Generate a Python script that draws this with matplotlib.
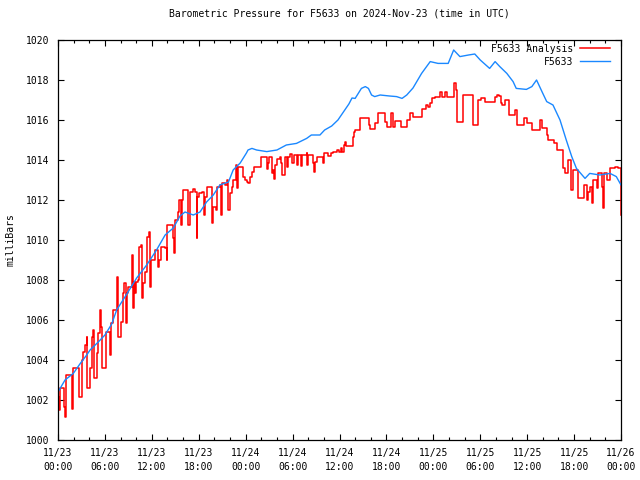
"""Barometric pressure for F5633, observed vs analysis, gnuplot-like look."""

import matplotlib
matplotlib.use("Agg")
import matplotlib.pyplot as plt

# hours since 2024-11-23 00:00 UTC
BLUE_HOURS = [
    0.0, 0.9, 1.96, 2.8, 3.67, 4.1, 5.15, 6.0, 6.87, 7.5, 8.8, 10.06, 11.34,
    12.6, 13.7, 14.75, 15.6, 16.24, 17.3, 18.16, 19.0, 19.86, 20.7, 21.8,
    22.4, 23.3, 24.1, 24.3, 24.8, 25.4, 26.7, 28.0, 29.2, 30.5, 31.8, 32.4,
    33.5, 34.1, 35.0, 35.8, 36.5, 37.2, 37.6, 38.0, 38.8, 39.3, 39.7, 40.1,
    40.5, 41.2, 42.4, 43.3, 44.0, 44.6, 45.4, 46.5, 47.6, 48.6, 49.9, 50.6,
    51.4, 52.5, 53.3, 54.0, 55.2, 55.9, 56.5, 57.4, 58.2, 58.6, 59.9, 60.6,
    61.2, 62.0, 62.5, 63.3, 64.2, 65.0, 65.7, 66.3, 67.4, 68.0, 69.3, 70.6,
    71.4, 72.0,
]
BLUE_MBAR = [
    1002.4, 1003.0, 1003.33, 1003.8, 1004.25, 1004.5, 1004.9, 1005.25,
    1005.8, 1006.5, 1007.3, 1008.1, 1008.75, 1009.5, 1010.25, 1010.6,
    1011.2, 1011.4, 1011.25, 1011.4, 1011.9, 1012.25, 1012.75, 1012.9,
    1013.5, 1013.85, 1014.35, 1014.5, 1014.58, 1014.5, 1014.42, 1014.5,
    1014.75, 1014.83, 1015.08, 1015.25, 1015.25, 1015.5, 1015.7, 1016.0,
    1016.4, 1016.8, 1017.1, 1017.08, 1017.58, 1017.67, 1017.58, 1017.25,
    1017.17, 1017.25, 1017.2, 1017.17, 1017.08, 1017.25, 1017.6, 1018.33,
    1018.92, 1018.83, 1018.83, 1019.5, 1019.17, 1019.25, 1019.3, 1019.0,
    1018.58, 1018.92, 1018.67, 1018.33, 1017.92, 1017.58, 1017.53, 1017.67,
    1018.0, 1017.33, 1016.92, 1016.75, 1016.0, 1015.0, 1014.17, 1013.58,
    1013.08, 1013.33, 1013.25, 1013.33, 1013.17, 1012.75,
]

RED_HOURS = [
    0.0, 0.17, 0.26, 0.68, 0.77, 0.90, 1.02, 1.75, 1.79, 1.88, 1.96, 2.60,
    2.69, 2.73, 3.03, 3.07, 3.24, 3.45, 3.67, 3.75, 4.09, 4.13, 4.31, 4.52,
    4.65, 4.94, 4.99, 5.16, 5.37, 5.50, 5.63, 6.01, 6.14, 6.56, 6.65, 6.78,
    7.08, 7.50, 7.59, 7.72, 8.01, 8.06, 8.27, 8.44, 8.65, 8.78, 8.99, 9.42,
    9.51, 9.63, 9.72, 9.85, 9.97, 10.27, 10.40, 10.61, 10.70, 10.78, 10.87,
    11.13, 11.42, 11.64, 11.76, 11.85, 12.19, 12.40, 12.62, 12.83, 12.96,
    13.17, 13.68, 13.90, 13.98, 14.66, 14.75, 14.88, 14.96, 15.26, 15.39,
    15.52, 15.73, 15.81, 16.03, 16.45, 16.67, 16.88, 17.22, 17.52, 17.73,
    17.82, 18.07, 18.37, 18.67, 18.80, 19.01, 19.44, 19.74, 19.86, 20.16,
    20.29, 20.72, 20.80, 21.01, 21.36, 21.57, 21.78, 21.99, 22.21, 22.42,
    22.72, 22.85, 23.06, 23.49, 23.70, 23.91, 24.13, 24.34, 24.55, 24.77,
    25.07, 25.83, 25.92, 26.60, 26.68, 26.77, 26.90, 27.02, 27.32, 27.41,
    27.53, 27.66, 27.75, 27.96, 28.39, 28.47, 28.60, 28.90, 29.03, 29.24,
    29.33, 29.45, 29.67, 29.88, 30.09, 30.18, 30.52, 30.60, 30.73, 31.03,
    31.24, 31.80, 31.88, 32.01, 32.65, 32.74, 32.86, 33.08, 33.50, 33.93,
    34.02, 34.57, 34.87, 35.21, 35.64, 35.98, 36.15, 36.36, 36.62, 36.75,
    36.88, 37.56, 37.69, 37.86, 38.03, 38.41, 38.62, 39.68, 39.77, 39.90,
    40.32, 40.54, 40.75, 40.88, 41.60, 41.80, 42.03, 42.46, 42.58, 42.80,
    42.88, 43.01, 43.10, 43.73, 43.82, 44.58, 44.67, 44.88, 44.97, 45.44,
    46.50, 46.59, 46.93, 47.01, 47.35, 47.56, 47.86, 48.20, 48.60, 48.85,
    49.06, 49.49, 49.70, 50.55, 50.64, 50.90, 51.06, 51.62, 51.75, 52.90,
    53.03, 53.62, 53.71, 54.05, 54.60, 55.67, 55.88, 56.10, 56.44, 56.61,
    56.73, 57.16, 57.59, 57.72, 58.23, 58.44, 58.66, 58.74, 59.50, 59.59,
    59.93, 60.57, 61.55, 61.64, 61.85, 62.49, 62.70, 63.26, 63.38, 63.77,
    63.85, 64.40, 64.62, 64.83, 65.26, 65.47, 65.60, 65.81, 66.32, 66.54,
    66.96, 67.26, 67.60, 67.81, 68.03, 68.24, 68.45, 68.88, 69.10, 69.31,
    69.52, 69.73, 69.82, 70.16, 70.59, 71.23, 71.57, 71.95, 72.0,
]
RED_MBAR = [
    1002.17, 1001.5, 1002.58, 1002.58, 1001.67, 1001.17, 1003.25, 1003.25,
    1001.53, 1002.58, 1003.58, 1003.58, 1003.17, 1002.17, 1002.17, 1004.0,
    1004.42, 1004.75, 1005.17, 1002.58, 1002.58, 1003.58, 1005.17, 1005.5,
    1003.08, 1003.08, 1004.33, 1005.33, 1006.5, 1005.67, 1003.58, 1003.58,
    1005.42, 1005.42, 1004.25, 1005.83, 1006.5, 1006.5, 1008.17, 1005.17,
    1005.17, 1005.92, 1007.33, 1007.83, 1005.83, 1007.33, 1007.67, 1007.92,
    1009.25, 1006.58, 1007.92, 1007.33, 1007.92, 1008.0, 1009.67, 1009.75,
    1007.67, 1007.08, 1007.83, 1008.42, 1010.17, 1010.42, 1007.67, 1009.0,
    1009.0, 1009.5, 1009.5, 1008.67, 1009.0, 1009.67, 1009.58, 1009.0,
    1010.75, 1010.75, 1010.08, 1009.33, 1011.0, 1011.0, 1011.42, 1012.0,
    1010.75, 1012.0, 1012.5, 1012.5, 1010.75, 1012.42, 1012.53, 1012.42,
    1010.08, 1012.17, 1012.33, 1012.42, 1011.25, 1012.17, 1012.67, 1012.67,
    1010.83, 1011.67, 1011.5, 1012.67, 1012.75, 1011.25, 1012.83, 1012.75,
    1013.0, 1011.5, 1012.33, 1012.67, 1013.0, 1013.75, 1012.58, 1013.67,
    1013.67, 1013.17, 1013.0, 1012.92, 1012.83, 1013.17, 1013.42, 1013.63,
    1013.63, 1014.17, 1014.17, 1013.83, 1013.53, 1013.83, 1014.17, 1014.17,
    1013.33, 1013.5, 1013.03, 1013.75, 1014.03, 1014.17, 1013.83, 1013.25,
    1013.25, 1014.17, 1014.17, 1013.67, 1014.17, 1014.3, 1013.83, 1013.83,
    1014.25, 1014.25, 1013.75, 1014.25, 1013.7, 1014.25, 1014.37, 1013.75,
    1014.25, 1013.83, 1013.42, 1013.92, 1014.17, 1014.17, 1013.83, 1014.33,
    1014.2, 1014.37, 1014.42, 1014.5, 1014.42, 1014.58, 1014.42, 1014.75,
    1014.92, 1014.72, 1014.72, 1015.17, 1015.42, 1015.5, 1015.5, 1016.08,
    1016.08, 1015.75, 1015.53, 1015.53, 1015.83, 1015.83, 1016.33, 1016.33,
    1015.92, 1015.67, 1015.67, 1016.33, 1016.33, 1015.67, 1015.67, 1015.97,
    1015.97, 1015.67, 1015.67, 1016.0, 1016.0, 1016.33, 1016.17, 1016.13,
    1016.53, 1016.53, 1016.75, 1016.67, 1016.83, 1017.08, 1017.17, 1017.13,
    1017.42, 1017.17, 1017.42, 1017.17, 1017.13, 1017.83, 1017.5, 1015.92,
    1015.92, 1017.25, 1017.25, 1015.75, 1015.75, 1017.0, 1017.08, 1016.92,
    1016.92, 1017.17, 1017.25, 1017.2, 1016.83, 1016.75, 1017.0, 1017.0,
    1016.25, 1016.25, 1016.5, 1016.25, 1015.75, 1015.75, 1016.08, 1015.83,
    1015.5, 1015.5, 1016.0, 1015.58, 1015.25, 1015.0, 1015.0, 1014.83,
    1014.75, 1014.5, 1014.5, 1013.58, 1013.33, 1014.0, 1014.0, 1012.5,
    1013.5, 1013.5, 1012.08, 1012.08, 1012.75, 1012.0, 1012.42, 1012.67,
    1011.83, 1013.0, 1012.58, 1013.33, 1013.33, 1012.67, 1011.58, 1013.33,
    1013.0, 1013.58, 1013.67, 1013.62, 1011.25, 1011.25,
]

X_TICKS = [0, 6, 12, 18, 24, 30, 36, 42, 48, 54, 60, 66, 72]
X_TICK_LABELS = [
    "11/23\n00:00", "11/23\n06:00", "11/23\n12:00", "11/23\n18:00",
    "11/24\n00:00", "11/24\n06:00", "11/24\n12:00", "11/24\n18:00",
    "11/25\n00:00", "11/25\n06:00", "11/25\n12:00", "11/25\n18:00",
    "11/26\n00:00",
]
Y_TICKS = list(range(1000, 1021, 2))

FONT = "DejaVu Sans Mono"
FS = 7


def main():
    fig = plt.figure(figsize=(6.4, 4.8), dpi=100)
    ax = fig.add_axes([58 / 640, 40 / 480, 563 / 640, 400 / 480])

    ax.plot(RED_HOURS, RED_MBAR, drawstyle="steps-post", color="#ff0000",
            linewidth=1.1, label="F5633 Analysis")
    ax.plot(BLUE_HOURS, BLUE_MBAR, color="#1a88ff", linewidth=1.0,
            label="F5633")

    ax.set_xlim(0, 72)
    ax.set_ylim(1000, 1020)
    ax.set_xticks(X_TICKS)
    ax.set_xticklabels(X_TICK_LABELS, fontfamily=FONT, fontsize=FS,
                       linespacing=1.45)
    ax.set_xticks(range(0, 73, 2), minor=True)
    ax.set_yticks(Y_TICKS)
    ax.set_yticklabels([str(v) for v in Y_TICKS], fontfamily=FONT, fontsize=FS)
    ax.tick_params(which="both", direction="in", top=True, right=True,
                   width=0.8, pad=6)
    ax.tick_params(which="major", length=4)
    ax.tick_params(which="minor", length=2.5)
    for sp in ax.spines.values():
        sp.set_linewidth(0.9)

    ax.set_ylabel("milliBars", fontfamily=FONT, fontsize=FS, labelpad=8)
    ax.set_title("Barometric Pressure for F5633 on 2024-Nov-23 (time in UTC)",
                 fontfamily=FONT, fontsize=FS, pad=17)

    ax.legend(loc="upper right", bbox_to_anchor=(0.99, 1.005), frameon=False,
              markerfirst=False, prop={"family": FONT, "size": FS},
              handlelength=3.0, handletextpad=0.7, labelspacing=0.3,
              borderaxespad=0.2)

    fig.savefig("out.png", dpi=100, facecolor="white")
    plt.close(fig)


if __name__ == "__main__":
    main()
